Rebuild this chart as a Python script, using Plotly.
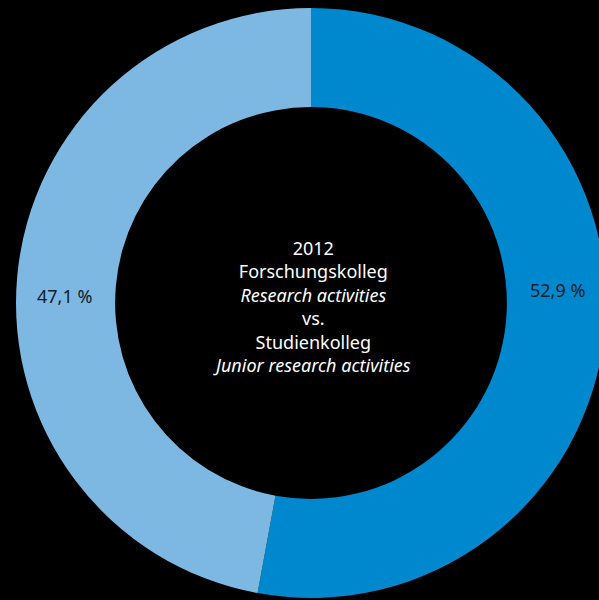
import plotly.graph_objects as go

# Share of funding: Forschungskolleg vs. Studienkolleg, 2012 (percent)
categories = ["Forschungskolleg", "Studienkolleg"]
shares = [52.9, 47.1]
slice_colors = ["#0088cf", "#7db8e3"]
year = "2012"

W, H = 620, 600
L, R, T, B = 16, 14, 8, 2
plot_w, plot_h = W - L - R, H - T - B


def px_to_paper(x, y):
    return (x - L) / plot_w, 1 - (y - T) / plot_h


fig = go.Figure(
    go.Pie(
        labels=categories,
        values=shares,
        hole=0.664,
        sort=False,
        direction="clockwise",
        rotation=0,
        marker=dict(colors=slice_colors, line=dict(width=0)),
        textinfo="none",
        hoverinfo="skip",
        showlegend=False,
    )
)

# Percentage labels on the ring
label_pos = [(557, 290), (64, 296)]
for val, (px, py) in zip(shares, label_pos):
    ax, ay = px_to_paper(px, py)
    fig.add_annotation(
        x=ax, y=ay, xref="paper", yref="paper",
        text=f"{val:.1f}".replace(".", ",") + " %",
        showarrow=False,
        font=dict(family="Noto Sans", size=18, color="#121c26"),
        xanchor="center", yanchor="middle",
    )

# Caption in the hole
cx, cy = px_to_paper(312, 306)
fig.add_annotation(
    x=cx, y=cy, xref="paper", yref="paper",
    text=(f"{year}<br>{categories[0]}<br><i>Research activities</i><br>vs.<br>"
          f"{categories[1]}<br><i>Junior research activities</i>"),
    showarrow=False,
    align="center",
    font=dict(family="Noto Sans", size=18, color="#ffffff"),
    xanchor="center", yanchor="middle",
)

fig.update_layout(
    width=W, height=H,
    margin=dict(l=L, r=R, t=T, b=B),
    paper_bgcolor="#000000",
    plot_bgcolor="#000000",
)

fig.write_html("out.html", post_script="document.body.style.overflow='hidden';")
